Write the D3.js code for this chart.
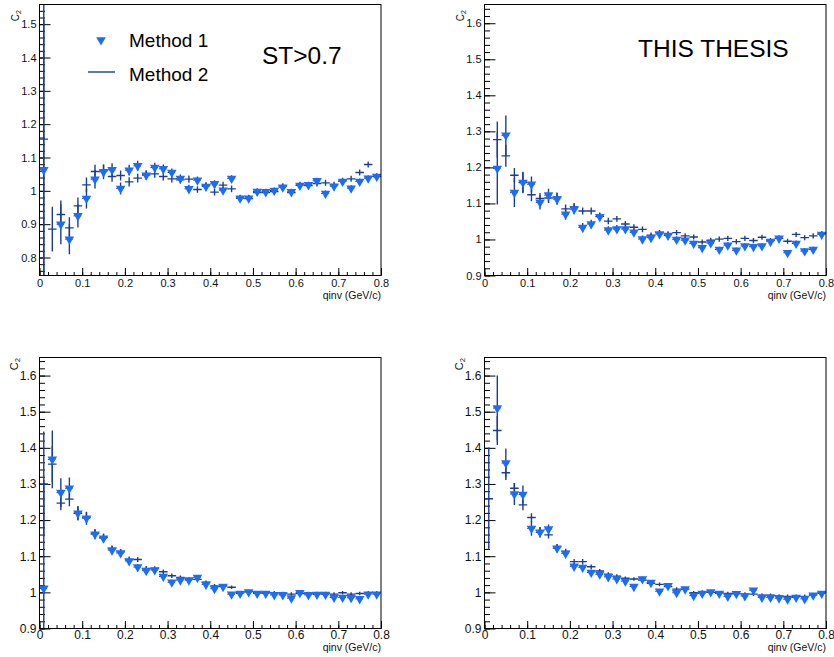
<!DOCTYPE html>
<html><head><meta charset="utf-8">
<script src="https://cdn.jsdelivr.net/npm/d3@7"></script>
<style>
html,body{margin:0;padding:0;background:#fff;}
svg{display:block;font-family:"Liberation Sans",Arial,sans-serif;}
</style></head>
<body>
<svg id="chart" width="834" height="657"></svg>
<script>
// ---------- DATA ----------
const binCenters = [0.01,0.03,0.05,0.07,0.09,0.11,0.13,0.15,0.17,0.19,0.21,0.23,0.25,0.27,0.29,0.31,0.33,0.35,0.37,0.39,
                    0.41,0.43,0.45,0.47,0.49,0.51,0.53,0.55,0.57,0.59,0.61,0.63,0.65,0.67,0.69,0.71,0.73,0.75,0.77,0.79];
const binWidth = 0.02;
const xTicks = [0,0.1,0.2,0.3,0.4,0.5,0.6,0.7,0.8];
const legendLabels = ["Method 1","Method 2"];
const xTitle = "qinv (GeV/c)";
const panelNotes = ["ST>0.7","THIS THESIS","",""];

// Panel 1 (top-left)
const p1Method1 = [1.063,null,0.900,0.855,0.925,0.977,1.035,1.057,1.063,1.007,1.062,1.075,1.047,1.070,1.066,1.055,1.037,1.006,1.032,1.013,
                   1.021,1.002,1.037,0.978,0.978,0.998,0.997,1.001,1.011,0.997,1.016,1.018,1.030,0.992,1.014,1.028,1.008,1.028,1.038,1.043];
const p1Method1Err = [0.45,0,0.060,0.045,0.035,0.030,0.028,0.022,0.020,0.018,0.016,0.015,0.014,0.014,0.013,0.012,0.012,0.012,0.011,0.011,
                      0.011,0.010,0.010,0.010,0.010,0.010,0.009,0.009,0.009,0.009,0.009,0.009,0.009,0.009,0.009,0.009,0.009,0.009,0.009,0.009];
const p1Method2 = [1.155,0.885,0.929,0.889,0.955,1.018,1.058,1.060,1.043,1.046,1.027,1.038,1.048,1.051,1.043,1.036,1.033,1.035,1.004,1.016,
                   0.996,1.017,1.006,0.978,0.977,0.995,0.995,0.998,1.014,0.995,1.018,1.016,1.022,1.024,1.018,1.030,1.036,1.055,1.079,1.043];
const p1Method2Err = [0.50,0.067,0.042,0.032,0.025,0.022,0.020,0.018,0.016,0.015,0.014,0.013,0.013,0.012,0.012,0.011,0.011,0.011,0.010,0.010,
                      0.010,0.010,0.010,0.009,0.009,0.009,0.009,0.009,0.009,0.009,0.009,0.009,0.009,0.009,0.009,0.009,0.009,0.009,0.009,0.009];
const p1YTicks = [0.8,0.9,1.0,1.1,1.2,1.3,1.4,1.5];

// Panel 2 (top-right)
const p2Method1 = [null,1.197,1.289,1.130,1.158,1.153,1.103,1.123,1.112,1.070,1.084,1.033,1.043,1.063,1.026,1.029,1.029,1.020,1.001,1.005,
                   1.015,1.011,1.000,0.998,0.989,0.977,0.990,0.972,0.984,0.970,0.982,0.980,0.982,0.994,1.003,0.963,0.989,0.968,0.972,1.014];
const p2Method1Err = [0,0.100,0.055,0.040,0.030,0.022,0.020,0.018,0.016,0.015,0.014,0.013,0.012,0.012,0.011,0.011,0.010,0.010,0.010,0.009,
                      0.009,0.009,0.009,0.009,0.008,0.008,0.008,0.008,0.008,0.008,0.008,0.008,0.008,0.008,0.008,0.008,0.008,0.008,0.008,0.008];
const p2Method2 = [null,1.277,1.232,1.178,1.158,1.124,1.114,1.115,1.117,1.085,1.090,1.079,1.079,1.064,1.051,1.057,1.043,1.034,1.028,1.012,
                   1.019,1.016,1.019,1.010,1.007,0.993,0.998,1.001,1.003,0.994,1.003,0.997,1.006,0.997,1.003,0.995,1.014,1.005,1.010,1.016];
const p2Method2Err = [0,0.050,0.030,0.020,0.028,0.018,0.015,0.014,0.013,0.012,0.011,0.010,0.010,0.009,0.009,0.008,0.008,0.008,0.008,0.007,
                      0.007,0.007,0.007,0.007,0.007,0.007,0.007,0.007,0.007,0.007,0.007,0.007,0.007,0.007,0.007,0.007,0.007,0.007,0.007,0.007];
const p2YTicks = [0.9,1.0,1.1,1.2,1.3,1.4,1.5,1.6];

// Panel 3 (bottom-left)
const p3Method1 = [1.011,1.368,1.276,1.288,1.219,1.205,1.161,1.150,1.117,1.109,1.087,1.070,1.060,1.062,1.044,1.028,1.034,1.034,1.041,1.022,
                   1.010,1.016,0.995,0.997,1.001,0.997,0.997,0.993,0.993,0.984,0.999,0.993,0.994,0.994,0.986,0.986,0.985,0.982,0.995,0.995];
const p3Method1Err = [0.30,0.080,0.040,0.030,0.020,0.018,0.014,0.012,0.011,0.010,0.009,0.008,0.008,0.007,0.007,0.007,0.006,0.006,0.006,0.006,
                      0.006,0.006,0.005,0.005,0.005,0.005,0.005,0.005,0.005,0.005,0.005,0.005,0.005,0.005,0.005,0.005,0.005,0.005,0.005,0.005];
const p3Method2 = [1.300,1.355,1.247,1.258,1.219,1.207,1.163,1.152,1.121,1.112,1.091,1.091,1.066,1.066,1.057,1.046,1.041,1.037,1.036,1.028,
                   1.018,1.018,1.014,0.999,1.002,0.999,0.999,0.999,0.997,0.995,0.997,0.997,0.997,0.997,0.995,0.999,0.995,0.997,0.999,0.999];
const p3Method2Err = [0.145,0.050,0.020,0.020,0.018,0.015,0.012,0.010,0.009,0.008,0.008,0.007,0.007,0.006,0.006,0.006,0.006,0.005,0.005,0.005,
                      0.005,0.005,0.005,0.005,0.005,0.005,0.005,0.005,0.005,0.005,0.005,0.005,0.005,0.005,0.005,0.005,0.005,0.005,0.005,0.005];
const p3YTicks = [0.9,1.0,1.1,1.2,1.3,1.4,1.5,1.6];

// Panel 4 (bottom-right)
const p4Method1 = [null,1.510,1.358,1.272,1.271,1.177,1.166,1.175,1.122,1.108,1.072,1.069,1.055,1.050,1.043,1.037,1.031,1.016,1.037,1.027,
                   1.003,1.018,0.999,1.009,0.991,0.997,1.001,0.997,0.989,0.996,0.990,1.006,0.986,0.986,0.984,0.981,0.986,0.982,0.992,0.997];
const p4Method1Err = [0,0.090,0.040,0.030,0.025,0.020,0.014,0.013,0.011,0.010,0.009,0.008,0.008,0.007,0.007,0.007,0.006,0.006,0.006,0.006,
                      0.006,0.006,0.005,0.005,0.005,0.005,0.005,0.005,0.005,0.005,0.005,0.005,0.005,0.005,0.005,0.005,0.005,0.005,0.005,0.005];
const p4Method2 = [1.259,1.448,1.331,1.288,1.242,1.207,1.171,1.159,1.126,1.113,1.085,1.085,1.071,1.059,1.050,1.045,1.039,1.037,1.034,1.025,
                   1.022,1.016,1.009,1.009,0.999,1.001,1.000,0.999,0.997,0.997,0.995,0.995,0.992,0.992,0.990,0.989,0.989,0.989,0.993,0.999];
const p4Method2Err = [0.142,0.040,0.020,0.015,0.015,0.012,0.010,0.010,0.008,0.008,0.007,0.007,0.006,0.006,0.006,0.005,0.005,0.005,0.005,0.005,
                      0.005,0.005,0.005,0.005,0.005,0.005,0.005,0.005,0.005,0.005,0.005,0.005,0.005,0.005,0.005,0.005,0.005,0.005,0.005,0.005];
const p4YTicks = [0.9,1.0,1.1,1.2,1.3,1.4,1.5,1.6];

const yDomains = [[0.746,1.559],[0.9,1.652],[0.9,1.65],[0.9,1.65]];

// ---------- LAYOUT / STYLE ----------
const NAVY = "#1d3d92";
const BLUE = "#1b6cf6";
const layout = [
  {x0:39.5, x1:381, y0:4.5,   y1:275.5, font:11, xpad:3.2, titleY:298.5, c2x:15,  c2y:10},
  {x0:484.5,x1:826, y0:4.5,   y1:275.5, font:11, xpad:3.2, titleY:298.5, c2x:460, c2y:10},
  {x0:39.5, x1:381, y0:357.5, y1:628.5, font:12, xpad:1.5, titleY:651,   c2x:14,  c2y:358},
  {x0:484.5,x1:826, y0:357.5, y1:628.5, font:12, xpad:1.5, titleY:651,   c2x:459, c2y:358}
];
const panels = [
  {m1:p1Method1,e1:p1Method1Err,m2:p1Method2,e2:p1Method2Err,yt:p1YTicks},
  {m1:p2Method1,e1:p2Method1Err,m2:p2Method2,e2:p2Method2Err,yt:p2YTicks},
  {m1:p3Method1,e1:p3Method1Err,m2:p3Method2,e2:p3Method2Err,yt:p3YTicks},
  {m1:p4Method1,e1:p4Method1Err,m2:p4Method2,e2:p4Method2Err,yt:p4YTicks}
];

const svg = d3.select("#chart");
const fmt = d => String(+(+d).toFixed(1));
const tri = d3.symbol().type(d3.symbolTriangle).size(40);

panels.forEach((p,i) => {
  const L = layout[i];
  const x = d3.scaleLinear().domain([0,0.8]).range([L.x0, L.x1]);
  const y = d3.scaleLinear().domain(yDomains[i]).range([L.y1, L.y0]);
  const g = svg.append("g");

  const cid = "clip"+i;
  svg.append("clipPath").attr("id",cid).append("rect")
     .attr("x",L.x0).attr("y",L.y0).attr("width",L.x1-L.x0).attr("height",L.y1-L.y0);

  const [ymin,ymax] = yDomains[i];
  const yMinor = d3.range(Math.ceil(ymin*50-1e-6), Math.floor(ymax*50+1e-6)+1).map(k=>k/50);
  const xMinor = d3.range(0,41).map(k=>k/50);

  const yMinorAxis = d3.axisLeft(y).tickValues(yMinor).tickSize(-5.5).tickFormat("");
  const yAxis = d3.axisLeft(y).tickValues(p.yt).tickSize(-11).tickPadding(3).tickFormat(fmt);
  const xMinorAxis = d3.axisBottom(x).tickValues(xMinor).tickSize(-3.5).tickFormat("");
  const xAxis = d3.axisBottom(x).tickValues(xTicks).tickSize(-7.5).tickPadding(L.xpad).tickFormat(fmt);

  const styleAxis = sel => {
    sel.select(".domain").remove();
    sel.selectAll("line").attr("stroke","#000").attr("stroke-width",1);
    sel.selectAll("text").attr("fill","#111").style("font-size",L.font+"px")
       .style("font-family","'Liberation Sans',Arial,sans-serif");
  };
  g.append("g").attr("transform",`translate(${L.x0},0)`).call(yMinorAxis).call(styleAxis);
  g.append("g").attr("transform",`translate(${L.x0},0)`).call(yAxis).call(styleAxis);
  g.append("g").attr("transform",`translate(0,${L.y1})`).call(xMinorAxis).call(styleAxis);
  g.append("g").attr("transform",`translate(0,${L.y1})`).call(xAxis).call(styleAxis);

  const dg = g.append("g").attr("clip-path",`url(#${cid})`);
  const pts1 = binCenters.map((c,k)=>({c, v:p.m1[k], e:p.e1[k]})).filter(d=>d.v!==null);
  const pts2 = binCenters.map((c,k)=>({c, v:p.m2[k], e:p.e2[k]})).filter(d=>d.v!==null);

  // Method 2: crosses (navy)
  pts2.forEach(d=>{
    dg.append("line").attr("x1",x(d.c-binWidth/2)).attr("x2",x(d.c+binWidth/2))
      .attr("y1",y(d.v)).attr("y2",y(d.v)).attr("stroke",NAVY).attr("stroke-width",1.4);
    dg.append("line").attr("x1",x(d.c)).attr("x2",x(d.c))
      .attr("y1",y(d.v-d.e)).attr("y2",y(d.v+d.e)).attr("stroke",NAVY).attr("stroke-width",1.4);
  });
  // Method 1: error bars + triangles
  pts1.forEach(d=>{
    dg.append("line").attr("x1",x(d.c-binWidth/2)).attr("x2",x(d.c+binWidth/2))
      .attr("y1",y(d.v)).attr("y2",y(d.v)).attr("stroke",NAVY).attr("stroke-width",1)
      .attr("stroke-dasharray","1.5,1.5");
    if (d.e>0) dg.append("line").attr("x1",x(d.c)).attr("x2",x(d.c))
      .attr("y1",y(d.v-d.e)).attr("y2",y(d.v+d.e)).attr("stroke",NAVY).attr("stroke-width",1.4);
  });
  pts1.forEach(d=>{
    dg.append("path").attr("d",tri).attr("fill",BLUE)
      .attr("transform",`translate(${x(d.c)},${y(d.v)}) rotate(180)`);
  });

  g.append("rect").attr("x",L.x0).attr("y",L.y0).attr("width",L.x1-L.x0).attr("height",L.y1-L.y0)
   .attr("fill","none").attr("stroke","#000").attr("stroke-width",1);

  g.append("text").attr("x",L.x1).attr("y",L.titleY)
   .attr("text-anchor","end").style("font-size","10.5px").attr("fill","#111").text(xTitle);
  const c2 = g.append("text").attr("transform",`translate(${L.c2x+4},${L.c2y}) rotate(-90)`)
   .attr("text-anchor","end").style("font-size",(i<2?"10px":"11px")).attr("fill","#111");
  c2.append("tspan").text("C");
  c2.append("tspan").attr("dy","0.3em").style("font-size","0.7em").text("2");

  if (panelNotes[i]) {
    const nx = i===0 ? 262 : 638;
    const ny = i===0 ? 64 : 57;
    g.append("text").attr("x",nx).attr("y",ny).style("font-size","24.5px").attr("fill","#000").text(panelNotes[i]);
  }
});

// legend (panel 1)
const lg = svg.append("g");
lg.append("path").attr("d",tri).attr("fill",BLUE).attr("transform","translate(101,40) rotate(180)");
lg.append("line").attr("x1",88).attr("x2",115).attr("y1",72).attr("y2",72).attr("stroke",NAVY).attr("stroke-width",1.4);
lg.append("text").attr("x",129).attr("y",47).style("font-size","19px").attr("fill","#000").text(legendLabels[0]);
lg.append("text").attr("x",129).attr("y",81).style("font-size","19px").attr("fill","#000").text(legendLabels[1]);
</script>
</body></html>
